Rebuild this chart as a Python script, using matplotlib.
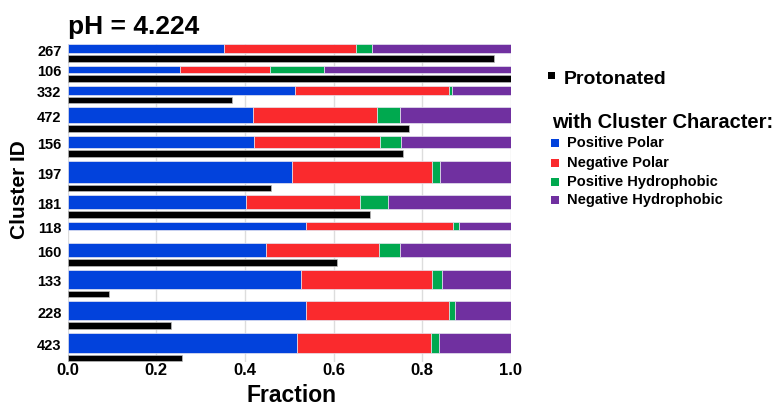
import matplotlib
matplotlib.use("Agg")
import matplotlib.pyplot as plt
from matplotlib.patches import Rectangle

# ---------------- data ----------------
cluster_ids = ["267", "106", "332", "472", "156", "197", "181", "118", "160", "133", "228", "423"]
# relative cluster population (drives bar thickness)
cluster_size = [9.0, 7.3, 9.0, 16.0, 12.4, 22.0, 14.3, 8.3, 14.7, 18.7, 19.0, 20.0]
positive_polar = [0.352, 0.254, 0.514, 0.418, 0.420, 0.506, 0.402, 0.539, 0.448, 0.526, 0.539, 0.517]
negative_polar = [0.299, 0.203, 0.347, 0.281, 0.285, 0.317, 0.258, 0.330, 0.255, 0.297, 0.322, 0.302]
positive_hydrophobic = [0.037, 0.121, 0.006, 0.050, 0.047, 0.017, 0.062, 0.015, 0.046, 0.021, 0.013, 0.020]
negative_hydrophobic = [0.312, 0.422, 0.133, 0.251, 0.248, 0.160, 0.278, 0.116, 0.251, 0.156, 0.126, 0.161]
protonated = [0.962, 1.000, 0.370, 0.771, 0.758, 0.460, 0.682, 0.000, 0.609, 0.094, 0.2325, 0.259]
series_names = ["Positive Polar", "Negative Polar", "Positive Hydrophobic", "Negative Hydrophobic"]
x_ticks = [0.0, 0.2, 0.4, 0.6, 0.8, 1.0]
title_text = "pH = 4.224"

# ---------------- style ----------------
colors = ["#0242DC", "#FA2A2D", "#00A94F", "#7030A0"]
FONT = ["Liberation Sans", "DejaVu Sans"]
plt.rcParams["font.family"] = FONT
plt.rcParams["font.weight"] = "bold"

W, H = 782, 408
fig = plt.figure(figsize=(W / 100, H / 100), dpi=100)
ax_top, ax_bot = 44, 362
ax = fig.add_axes([67.7 / W, (H - ax_bot) / H, 443 / W, (ax_bot - ax_top) / H])

black_h = 6.7
gap_mid = 2.0
gap_grp = 4.0

series = [positive_polar, negative_polar, positive_hydrophobic, negative_hydrophobic]
y = 0.0
tick_pos = []
for i, cid in enumerate(cluster_ids):
    h = cluster_size[i]
    left = 0.0
    for s, col in zip(series, colors):
        ax.barh(y, s[i], height=h, left=left, align="edge", color=col,
                edgecolor="#e6e6f0", linewidth=0.5, zorder=3)
        left += s[i]
    tick_pos.append(y + h / 2 + 1.5)
    yb = y + h + gap_mid
    if protonated[i] > 0:
        ax.barh(yb, protonated[i], height=black_h, left=0, align="edge",
                color="black", edgecolor="#bbbbbb", linewidth=0.5, zorder=3)
    y = yb + black_h + gap_grp

ax.set_ylim(y - gap_grp + 0.8, -0.3)
ax.set_xlim(0, 1.0)
ax.set_yticks(tick_pos)
ax.set_yticklabels(cluster_ids, fontsize=10.5, fontweight="bold")
ax.set_xticks(x_ticks)
ax.set_xticklabels([f"{t:.1f}" for t in x_ticks], fontsize=12, fontweight="bold")
ax.tick_params(axis="both", length=0)
ax.tick_params(axis="y", pad=4.5)
ax.tick_params(axis="x", pad=0.8)
for sp in ax.spines.values():
    sp.set_visible(False)
ax.grid(axis="x", color="#dddddd", linewidth=1.0, zorder=0)
ax.set_axisbelow(True)

# titles/labels
fig.text(68 / W, (H - 34.3) / H, title_text, fontsize=19, fontweight="bold",
         ha="left", va="baseline")
fig.text(291.5 / W, (H - 407.2) / H, "Fraction", fontsize=16.5, fontweight="bold",
         ha="center", va="bottom")
fig.text(20 / W, (H - 190) / H, "Cluster ID", fontsize=15, fontweight="bold",
         ha="center", va="center", rotation=90)

# legend (manual)
def square(x0, yc, size, col):
    fig.patches.append(Rectangle((x0 / W, (H - yc - size / 2) / H), size / W, size / H,
                                 transform=fig.transFigure, facecolor=col,
                                 edgecolor="none", figure=fig))

square(548.3, 75.7, 7, "black")
fig.text(563.3 / W, (H - 79) / H, "Protonated", fontsize=14, fontweight="bold",
         ha="left", va="center")
fig.text(552.3 / W, (H - 122.5) / H, "with Cluster Character:", fontsize=14.5,
         fontweight="bold", ha="left", va="center")
ys = [143.3, 162.7, 181.7, 200.0]
for name, col, yc in zip(series_names, colors, ys):
    square(550.7, yc, 8, col)
    fig.text(566.7 / W, (H - yc) / H, name, fontsize=10.5, fontweight="bold",
             ha="left", va="center")

fig.savefig("out.png", dpi=100)
